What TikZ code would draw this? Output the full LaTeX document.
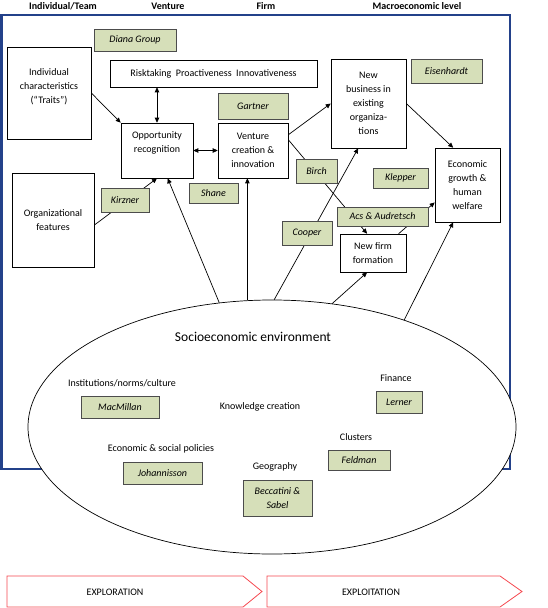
\documentclass[tikz,border=0pt]{standalone}
\usepackage{fontspec}
\setmainfont{Carlito}
\usetikzlibrary{arrows.meta,shapes.geometric}
\definecolor{frameblue}{HTML}{23418A}
\definecolor{refgreen}{HTML}{D6DFB9}
\definecolor{arrred}{HTML}{F5484F}
\begin{document}
\begin{tikzpicture}[x=1pt,y=-1pt,
  every node/.style={font=\fontsize{10}{14}\selectfont, inner sep=0pt, align=center},
  box/.style={draw, fill=white, line width=0.6pt},
  ref/.style={draw=black!70, fill=refgreen, line width=0.8pt, font=\fontsize{10}{14}\selectfont\itshape},
  plain/.style={font=\fontsize{10}{14}\selectfont},
  conn/.style={line width=0.7pt, -{Triangle[length=5pt,width=4.5pt]}},
  dconn/.style={line width=0.7pt, {Triangle[length=5pt,width=4.5pt]}-{Triangle[length=5pt,width=4.5pt]}},
  hdr/.style={font=\fontsize{10}{12}\selectfont\bfseries},
  phase/.style={draw=arrred, line width=0.8pt}]
\useasboundingbox (0,0) rectangle (548,608);

% headers
\node[hdr] (h1) at (63,6) {Individual/Team};
\node[hdr] (h2) at (168,6) {Venture};
\node[hdr] (h3) at (266,6) {Firm};
\node[hdr] (h4) at (417,6) {Macroeconomic level};

% frame
\draw[frameblue, line width=2.2pt] (1.5,15) rectangle (510,469);

% environment ellipse
\node[ellipse, draw, fill=white, line width=0.7pt, minimum width=488pt, minimum height=254pt] (env) at (272,427) {};
\node[font=\fontsize{13.5}{16}\selectfont] (envt) at (253,337) {Socioeconomic environment};
\node[plain] (inst) at (122,383) {Institutions/norms/culture};
\node[plain] (know) at (260,407) {Knowledge creation};
\node[plain] (fin) at (396,378) {Finance};
\node[plain] (clu) at (356,437) {Clusters};
\node[plain] (pol) at (161,449) {Economic \& social policies};
\node[plain] (geo) at (275,467) {Geography};

% main boxes
\node[box, minimum width=84pt, minimum height=92pt] (ind) at (49,93) {};
\node[plain] (indt) at (49,87) {Individual\\characteristics\\(“Traits”)};
\node[box, minimum width=207pt, minimum height=27pt] (risk) at (213.5,73.5) {Risktaking\ \ Proactiveness\ \ Innovativeness};
\node[box, minimum width=75pt, minimum height=89pt] (nb) at (368.5,103.5) {New\\business in\\existing\\organiza-\\tions};
\node[box, minimum width=72pt, minimum height=55pt] (opp) at (157,150.5) {};
\node[plain] (oppt) at (157,143) {Opportunity\\recognition};
\node[box, minimum width=70pt, minimum height=55pt] (ven) at (253,150.5) {Venture\\creation \&\\innovation};
\node[box, minimum width=65pt, minimum height=74pt] (eco) at (467.5,185) {Economic\\growth \&\\human\\welfare};
\node[box, minimum width=82pt, minimum height=94pt] (org) at (53,220) {Organizational\\features};
\node[box, minimum width=66pt, minimum height=38pt] (nff) at (373,253) {New firm\\formation};

% connectors
\draw[conn] (ind.east) -- (opp.north west);
\draw[dconn] (opp.north) -- (opp.north |- risk.south);
\draw[dconn] (opp.east) -- (ven.west);
\draw[conn] (ven.24) -- (nb.west);
\draw[conn] (ven.17) -- (nff.107);
\draw[conn] (nff.37) -- (eco.-152);
\draw[conn] (nb.east) -- (eco.111);
\draw[conn] (org.-7) -- (opp.south);
\draw[conn] (env.113) -- (opp.-69);
\draw[conn] (env.101) -- (env.101 |- ven.south);
\draw[conn] (env.89.5) -- (nb.-103);
\draw[conn] (env.64) -- (nff.-107);
\draw[conn] (env.39) -- (eco.-111);

% reference boxes
\node[ref, minimum width=82pt, minimum height=22pt] (diana) at (135,40) {Diana Group};
\node[ref, minimum width=71pt, minimum height=24pt] (eis) at (446.5,71) {Eisenhardt};
\node[ref, minimum width=70pt, minimum height=26pt] (gart) at (253,106) {Gartner};
\node[ref, minimum width=41pt, minimum height=24pt] (birch) at (316.5,171) {Birch};
\node[ref, minimum width=55pt, minimum height=20pt] (klep) at (400.5,178) {Klepper};
\node[ref, minimum width=48pt, minimum height=24pt] (kirz) at (125,200) {Kirzner};
\node[ref, minimum width=49pt, minimum height=20pt] (shane) at (213.5,193) {Shane};
\node[ref, minimum width=91pt, minimum height=19pt] (acs) at (382.5,216.5) {Acs \& Audretsch};
\node[ref, minimum width=50pt, minimum height=24pt] (coop) at (307,233) {Cooper};
\node[ref, minimum width=78pt, minimum height=22pt] (macm) at (120,407) {MacMillan};
\node[ref, minimum width=46pt, minimum height=22pt] (lern) at (399,402) {Lerner};
\node[ref, minimum width=62pt, minimum height=20pt] (feld) at (359,460) {Feldman};
\node[ref, minimum width=79pt, minimum height=22pt] (joh) at (162.5,473) {Johannisson};
\node[ref, minimum width=69pt, minimum height=36pt] (becc) at (277.5,498) {Beccatini \&\\Sabel};

% phases
\draw[phase] (7,576) -- (243,576) -- (262,591.5) -- (243,607) -- (7,607) -- cycle;
\draw[phase] (267,576) -- (500,576) -- (522,591.5) -- (500,607) -- (267,607) -- cycle;
\node[plain] (expl) at (115,592) {EXPLORATION};
\node[plain] (expt) at (371,592) {EXPLOITATION};
\end{tikzpicture}
\end{document}
